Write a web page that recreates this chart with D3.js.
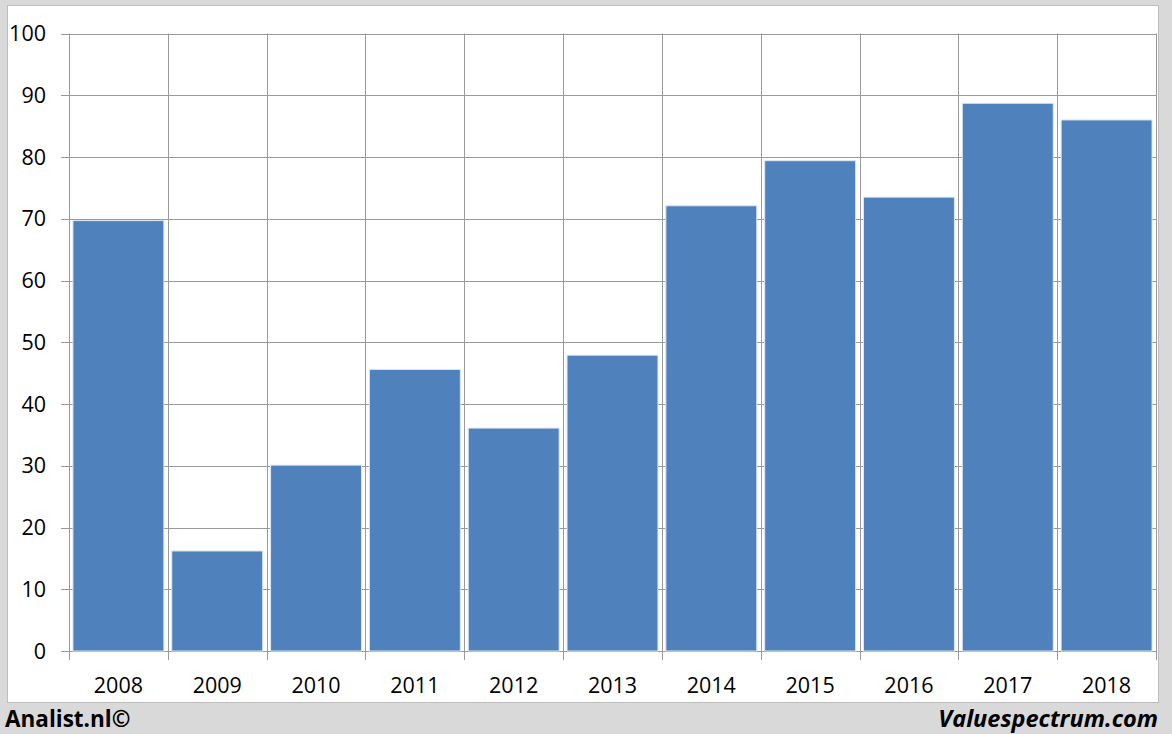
<!DOCTYPE html>
<html><head><meta charset="utf-8">
<script src="https://cdn.jsdelivr.net/npm/d3@7"></script>
<style>body{margin:0;background:#d9d9d9;}svg{display:block;}</style>
</head><body>
<svg id="c" width="1172" height="734"></svg>
<script>
const categories = ["2008","2009","2010","2011","2012","2013","2014","2015","2016","2017","2018"];
const values = [69.7, 16.2, 30.1, 45.6, 36.1, 47.9, 72.1, 79.4, 73.5, 88.7, 86.0];
const yTicks = [0,10,20,30,40,50,60,70,80,90,100];

(function(){
const svg = d3.select("#c");
const font = "'Open Sans','Liberation Sans',sans-serif";
svg.append("rect").attr("x",0).attr("y",0).attr("width",1172).attr("height",734).attr("fill","#d9d9d9");
svg.append("rect").attr("x",7.5).attr("y",5.5).attr("width",1151).attr("height",697).attr("fill","#fff").attr("stroke","#bdbdbd");

const pLeft=69, pRight=1156, pTop=33.5, pBottom=651;
const x = d3.scaleBand().domain(categories).range([pLeft,pRight]).paddingInner(0.08).paddingOuter(0.04);
const xb = d3.scaleBand().domain(categories).range([pLeft,pRight]);
const y = d3.scaleLinear().domain([0,100]).range([pBottom,pTop]);

const grid = svg.append("g");
yTicks.forEach(t=>{
  grid.append("line").attr("x1",pLeft-8).attr("x2",pRight).attr("y1",Math.round(y(t))+0.5).attr("y2",Math.round(y(t))+0.5).attr("stroke","#9a9a9a").attr("stroke-width",1);
});
categories.forEach(c=>{
  grid.append("line").attr("x1",Math.round(xb(c))+0.5).attr("x2",Math.round(xb(c))+0.5).attr("y1",pTop).attr("y2",pBottom+9).attr("stroke","#9a9a9a");
});
grid.append("line").attr("x1",pRight+0.5).attr("x2",pRight+0.5).attr("y1",pTop).attr("y2",pBottom+9).attr("stroke","#9a9a9a");

svg.append("g").selectAll("rect").data(values).join("rect")
  .attr("x",(d,i)=>x(categories[i]))
  .attr("width",x.bandwidth())
  .attr("y",d=>y(d))
  .attr("height",d=>pBottom-y(d))
  .attr("fill","#4f81bd")
  .attr("stroke","#dbe5f1").attr("stroke-width",1);

svg.append("g").selectAll("text").data(yTicks).join("text")
  .attr("x",46).attr("y",d=>y(d)).attr("dy","0.35em")
  .attr("text-anchor","end").attr("font-family",font).attr("font-size",21.5).attr("fill","#000")
  .text(d=>d);

svg.append("g").selectAll("text").data(categories).join("text")
  .attr("x",d=>xb(d)+xb.bandwidth()/2).attr("y",693)
  .attr("text-anchor","middle").attr("font-family",font).attr("font-size",21.5).attr("fill","#000")
  .text(d=>d);

svg.append("text").attr("x",5).attr("y",727).attr("font-family",font).attr("font-weight","bold").attr("font-size",22.5).text("Analist.nl©");
svg.append("text").attr("x",1158).attr("y",727).attr("text-anchor","end").attr("font-family",font).attr("font-weight","bold").attr("font-style","italic").attr("font-size",23.5).text("Valuespectrum.com");
})();
</script>
</body></html>
